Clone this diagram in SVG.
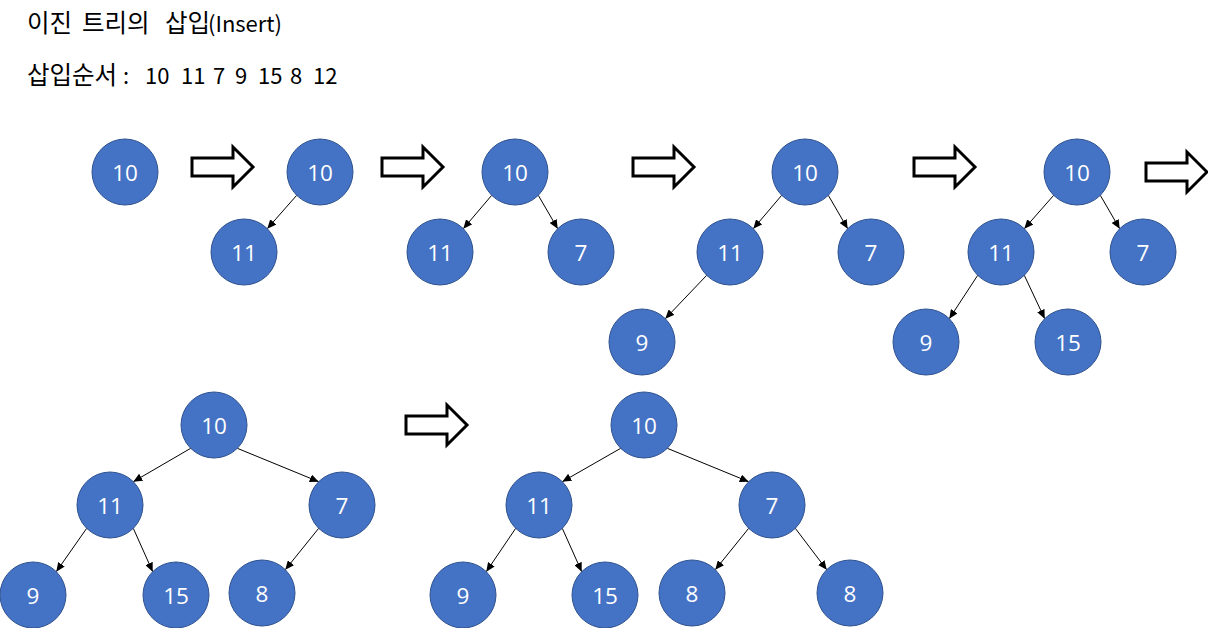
<svg xmlns="http://www.w3.org/2000/svg" width="1208" height="628" viewBox="0 0 1208 628">
<style>
.title{font-family:"Noto Sans CJK KR","Noto Sans",sans-serif;font-size:22px;fill:#000}
.ko{font-size:24.5px}
.node circle{fill:#4472C4;stroke:#2F528F;stroke-width:1}
.node text{font-family:"Open Sans","Noto Sans",sans-serif;font-size:22.5px;fill:#fff;text-anchor:middle}
.edge{stroke:#000;stroke-width:1;fill:none;marker-end:url(#ah)}
.blk{fill:#fff;stroke:#000;stroke-width:3;stroke-linejoin:miter}
</style>
<defs>
<marker id="ah" markerUnits="userSpaceOnUse" markerWidth="9" markerHeight="8" refX="9" refY="4" orient="auto"><path d="M0,0 L9,4 L0,8 z" fill="#000"/></marker>
<path id="blockArrow" d="M0,-9 H41 V-20 L61,0 L41,20 V9 H0 Z"/>
</defs>
<rect width="1208" height="628" fill="#fff"/>
<text class="title" y="32"><tspan class="ko" x="27">이진</tspan><tspan class="ko" x="82">트리의</tspan><tspan class="ko" x="165">삽입</tspan><tspan x="208">(Insert)</tspan></text>
<text class="title" y="84"><tspan class="ko" x="27">삽입순서</tspan><tspan x="123">:</tspan><tspan x="145">10</tspan><tspan x="181">11</tspan><tspan x="213">7</tspan><tspan x="235">9</tspan><tspan x="258">15</tspan><tspan x="290">8</tspan><tspan x="313">12</tspan></text>

<g id="step-arrows">
<use href="#blockArrow" class="blk" transform="translate(192,167)"/>
<use href="#blockArrow" class="blk" transform="translate(382,167)"/>
<use href="#blockArrow" class="blk" transform="translate(633,167)"/>
<use href="#blockArrow" class="blk" transform="translate(914,167)"/>
<use href="#blockArrow" class="blk" transform="translate(1146,172)"/>
<use href="#blockArrow" class="blk" transform="translate(406,425)"/>
</g>

<g id="connectors">
<path class="edge" d="M296.7,195.3 L267.3,228.7"/>
<path class="edge" d="M491.7,195.3 L463.3,228.7"/>
<path class="edge" d="M538.3,195.3 L557.7,228.7"/>
<path class="edge" d="M781.7,195.3 L753.3,228.7"/>
<path class="edge" d="M828.3,195.3 L847.7,228.7"/>
<path class="edge" d="M706.7,275.3 L665.3,318.7"/>
<path class="edge" d="M1053.7,195.3 L1024.3,228.7"/>
<path class="edge" d="M1100.3,195.3 L1119.7,228.7"/>
<path class="edge" d="M977.7,275.3 L949.3,318.7"/>
<path class="edge" d="M1024.3,275.3 L1044.7,318.7"/>
<path class="edge" d="M190.7,448.3 L133.3,481.7"/>
<path class="edge" d="M237.3,448.3 L318.7,481.7"/>
<path class="edge" d="M86.7,528.3 L56.3,571.7"/>
<path class="edge" d="M133.3,528.3 L152.7,571.7"/>
<path class="edge" d="M318.7,528.3 L285.3,569.7"/>
<path class="edge" d="M620.7,448.3 L562.3,481.7"/>
<path class="edge" d="M667.3,448.3 L748.7,481.7"/>
<path class="edge" d="M515.7,528.3 L486.3,571.7"/>
<path class="edge" d="M562.3,528.3 L581.7,571.7"/>
<path class="edge" d="M748.7,528.3 L715.3,569.7"/>
<path class="edge" d="M795.3,528.3 L826.7,569.7"/>
</g>

<g id="t1-10" class="node"><circle cx="125" cy="172" r="33"/><text x="125" y="180.5">10</text></g>

<g id="t2-10" class="node"><circle cx="320" cy="172" r="33"/><text x="320" y="180.5">10</text></g>
<g id="t2-11" class="node"><circle cx="244" cy="252" r="33"/><text x="244" y="260.5">11</text></g>

<g id="t3-10" class="node"><circle cx="515" cy="172" r="33"/><text x="515" y="180.5">10</text></g>
<g id="t3-11" class="node"><circle cx="440" cy="252" r="33"/><text x="440" y="260.5">11</text></g>
<g id="t3-7" class="node"><circle cx="581" cy="252" r="33"/><text x="581" y="260.5">7</text></g>

<g id="t4-10" class="node"><circle cx="805" cy="172" r="33"/><text x="805" y="180.5">10</text></g>
<g id="t4-11" class="node"><circle cx="730" cy="252" r="33"/><text x="730" y="260.5">11</text></g>
<g id="t4-7" class="node"><circle cx="871" cy="252" r="33"/><text x="871" y="260.5">7</text></g>
<g id="t4-9" class="node"><circle cx="642" cy="342" r="33"/><text x="642" y="350.5">9</text></g>

<g id="t5-10" class="node"><circle cx="1077" cy="172" r="33"/><text x="1077" y="180.5">10</text></g>
<g id="t5-11" class="node"><circle cx="1001" cy="252" r="33"/><text x="1001" y="260.5">11</text></g>
<g id="t5-7" class="node"><circle cx="1143" cy="252" r="33"/><text x="1143" y="260.5">7</text></g>
<g id="t5-9" class="node"><circle cx="926" cy="342" r="33"/><text x="926" y="350.5">9</text></g>
<g id="t5-15" class="node"><circle cx="1068" cy="342" r="33"/><text x="1068" y="350.5">15</text></g>

<g id="t6-10" class="node"><circle cx="214" cy="425" r="33"/><text x="214" y="433.5">10</text></g>
<g id="t6-11" class="node"><circle cx="110" cy="505" r="33"/><text x="110" y="513.5">11</text></g>
<g id="t6-7" class="node"><circle cx="342" cy="505" r="33"/><text x="342" y="513.5">7</text></g>
<g id="t6-9" class="node"><circle cx="33" cy="595" r="33"/><text x="33" y="603.5">9</text></g>
<g id="t6-15" class="node"><circle cx="176" cy="595" r="33"/><text x="176" y="603.5">15</text></g>
<g id="t6-8" class="node"><circle cx="262" cy="593" r="33"/><text x="262" y="601.5">8</text></g>

<g id="t7-10" class="node"><circle cx="644" cy="425" r="33"/><text x="644" y="433.5">10</text></g>
<g id="t7-11" class="node"><circle cx="539" cy="505" r="33"/><text x="539" y="513.5">11</text></g>
<g id="t7-7" class="node"><circle cx="772" cy="505" r="33"/><text x="772" y="513.5">7</text></g>
<g id="t7-9" class="node"><circle cx="463" cy="595" r="33"/><text x="463" y="603.5">9</text></g>
<g id="t7-15" class="node"><circle cx="605" cy="595" r="33"/><text x="605" y="603.5">15</text></g>
<g id="t7-8a" class="node"><circle cx="692" cy="593" r="33"/><text x="692" y="601.5">8</text></g>
<g id="t7-8b" class="node"><circle cx="850" cy="593" r="33"/><text x="850" y="601.5">8</text></g>
</svg>
